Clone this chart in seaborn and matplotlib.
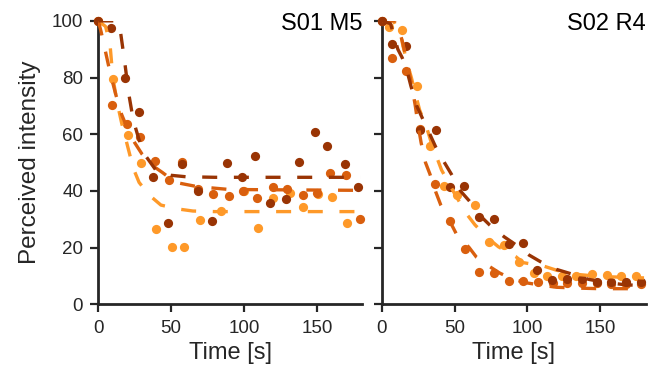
import numpy as np
import seaborn as sns
import matplotlib
matplotlib.use("Agg")
import matplotlib.pyplot as plt

# colours of the three trials
c_dark = "#993404"
c_mid = "#d95f0e"
c_light = "#fe9929"

# ---- panel 1: S01 M5 (measured points)
l_dark_t = [0, 8.7, 18.4, 28, 37.8, 48.1, 57.3, 68.3, 77.9, 88.2, 98.5, 107.8, 118, 128.8, 137.7, 148.7, 157, 169, 178.3]
l_dark_v = [100, 97.6, 80, 67.7, 44.8, 28.8, 49.6, 39.9, 29.4, 49.9, 44.8, 52.3, 35.6, 37.3, 50.3, 60.7, 55.9, 49.4, 41.3]
l_mid_t = [0, 9.6, 19.5, 28.7, 39, 48.8, 57.6, 68.6, 79, 90, 99.6, 108.8, 119.6, 129.5, 140.2, 150, 159.2, 170, 179.4]
l_mid_v = [100, 70.3, 63.5, 58.9, 50.5, 43.7, 50.2, 40.5, 38.8, 38.3, 40, 37.6, 41.3, 40.5, 38.7, 39.3, 46.2, 45.6, 30]
l_light_t = [0, 10.3, 20.2, 29.1, 39.4, 50.4, 59.1, 69.9, 84.5, 100, 109.9, 120, 131.8, 140.2, 151, 160.4, 170.7]
l_light_v = [100, 79.5, 59.8, 50, 26.5, 20.2, 20.2, 29.6, 32.9, 40, 27, 37.6, 39.1, 34.4, 39, 37.9, 28.8]

# panel 1 fitted curves
lf_dark_t = [0, 12, 15, 18, 21, 24, 28, 33, 40, 50, 60, 80, 180]
lf_dark_v = [100, 100, 97, 86, 74, 65, 58, 52, 47, 45.5, 45, 44.8, 44.8]
lf_mid_t = [0, 2, 5, 8, 12, 16, 20, 25, 30, 37, 44, 53, 68, 90, 180]
lf_mid_v = [100, 96, 89, 82, 74, 67, 62, 57, 53, 49, 46.5, 43, 41.5, 40.5, 40.2]
lf_light_t = [0, 5, 8, 10, 13, 16, 20, 24, 28, 35, 43, 55, 65, 80, 180]
lf_light_v = [100, 98, 92, 80, 71, 64, 56, 48, 43, 38.5, 35, 33.6, 32.9, 32.7, 32.7]

# ---- panel 2: S02 R4 (measured points)
r_dark_t = [0, 6.8, 16.6, 26.5, 37, 46.6, 56.7, 67, 76.7, 87, 96.9, 106.8, 117, 127.2, 137.2, 147.5, 157.5, 167.7, 178]
r_dark_v = [100, 91.7, 91, 61.5, 61.5, 41.4, 41.7, 30.7, 30.1, 21.4, 21.5, 12.1, 8.7, 8.8, 8.8, 8, 8, 8, 7.8]
r_mid_t = [0, 6.8, 16.4, 26.3, 36.7, 46.6, 57.2, 66.8, 76.7, 87, 96.9, 107.2, 117.3, 127.2, 137.2, 147.5, 157.5, 167.7, 178]
r_mid_v = [100, 87, 82.3, 62, 42.5, 29.4, 19.4, 11.5, 11.2, 8.1, 8.1, 7.8, 7.6, 7.5, 7.4, 7.4, 7.3, 7.3, 7.2]
r_light_t = [0, 4.8, 13.6, 23.9, 33, 42.8, 51.5, 64.3, 73.8, 83.6, 94, 104.2, 113.4, 123.5, 133.5, 144, 154.5, 164.4, 174.7]
r_light_v = [100, 98, 96.6, 76.9, 55.8, 41.8, 38.6, 35, 22, 21, 15, 10.9, 10.1, 10, 10.1, 10.8, 10.5, 10, 10]

# panel 2 fitted curves
rf_dark_t = [0, 6, 11, 14, 17, 20, 24, 28, 33, 37, 43, 48, 54, 60, 68, 74, 84, 92, 101, 109, 120, 129, 142, 150, 165, 180]
rf_dark_v = [100, 99, 90, 87, 83, 77, 70, 65.5, 60, 55.5, 50, 45.7, 40, 36.5, 31, 28, 23.8, 21, 17.4, 15, 12.3, 10.9, 8.8, 8, 7, 6.5]
rf_mid_t = [0, 10, 14, 18, 21, 23, 25, 27, 30, 33, 37, 40.5, 47, 51, 60, 65, 74, 81, 90, 100, 110, 120, 135, 150, 180]
rf_mid_v = [100, 100, 93, 84, 76, 70, 63, 57, 50, 46, 39.7, 35, 29, 25, 20, 16.6, 13.3, 11, 8.8, 7.5, 6.7, 6, 5.7, 5.5, 5.5]
rf_light_t = [0, 8, 13, 14.6, 18, 20.3, 23.7, 26, 31, 34, 38, 41, 50, 58, 64, 73, 80, 92, 97, 111, 120, 135, 150, 180]
rf_light_v = [100, 100, 95, 91, 84, 80, 73, 68.5, 62, 57, 51.5, 47.4, 39, 32, 28, 23.3, 20.3, 16.8, 14.7, 13.5, 12, 10.5, 9.8, 9.3]

titles = ["S01 M5", "S02 R4"]

sns.set_style("ticks")
plt.rcParams["font.family"] = ["Liberation Sans", "DejaVu Sans"]

fig = plt.figure(figsize=(6.57, 3.86), dpi=100)
ax1 = fig.add_axes([0.1496, 0.2117, 0.4014, 0.7343])
ax2 = fig.add_axes([0.5811, 0.2117, 0.4014, 0.7343])

dash = (0, (4.5, 5))
panels = [
    (ax1, [(l_light_t, l_light_v, lf_light_t, lf_light_v, c_light),
           (l_mid_t, l_mid_v, lf_mid_t, lf_mid_v, c_mid),
           (l_dark_t, l_dark_v, lf_dark_t, lf_dark_v, c_dark)]),
    (ax2, [(r_light_t, r_light_v, rf_light_t, rf_light_v, c_light),
           (r_mid_t, r_mid_v, rf_mid_t, rf_mid_v, c_mid),
           (r_dark_t, r_dark_v, rf_dark_t, rf_dark_v, c_dark)]),
]

for i, (ax, series) in enumerate(panels):
    for pt, pv, ft, fv, col in series:
        sns.scatterplot(x=pt, y=pv, color=col, s=44, linewidth=0, ax=ax,
                        clip_on=False, zorder=3)
    for pt, pv, ft, fv, col in series:
        sns.lineplot(x=ft, y=fv, color=col, lw=2.4, linestyle=dash, ax=ax,
                     zorder=4)
    ax.set_xlim(0, 181)
    ax.set_ylim(0, 100)
    ax.set_xticks([0, 50, 100, 150])
    ax.set_yticks([0, 20, 40, 60, 80, 100])
    ax.set_xlabel("Time [s]", fontsize=17, color="#262626", labelpad=4)
    ax.text(1.0, 0.967, titles[i], transform=ax.transAxes, ha="right",
            va="baseline", fontsize=17, color="black")
    for s in ["left", "bottom"]:
        ax.spines[s].set_linewidth(2)
        ax.spines[s].set_color("#262626")
    ax.tick_params(width=1.6, length=6, pad=5, labelsize=13.5, color="#262626",
                   labelcolor="#262626")
    sns.despine(ax=ax)

ax1.set_ylabel("Perceived intensity", fontsize=17.5, color="#262626", labelpad=8)
ax2.set_yticklabels([])

fig.savefig("out.png", dpi=100)
